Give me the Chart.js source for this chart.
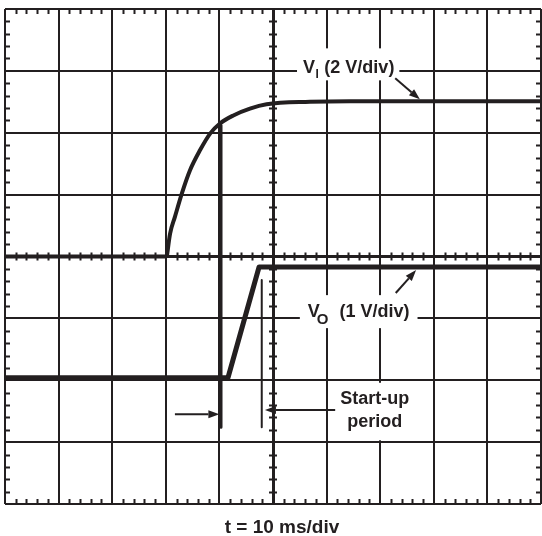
<!DOCTYPE html>
<html>
<head>
<meta charset="utf-8">
<script src="https://cdn.jsdelivr.net/npm/chart.js@4/dist/chart.umd.min.js"></script>
<style>
  body { margin: 0; background: #fff; }
  #wrap { width: 542px; height: 536px; position: relative; }
</style>
</head>
<body>
<div id="wrap"><canvas id="scope"></canvas></div>
<script>
// time in ms (10 ms/div), level in divisions from the bottom of the screen
var viBaseT = [0, 30.2];
var viBaseV = [4.0, 4.0];
var viRampT = [30.2, 30.8, 31.7, 33.0, 34.5, 36.4, 38.3, 40.1, 42.6, 45.7, 48.8, 56.9, 64.4, 100];
var viRampV = [4.0, 4.37, 4.64, 5.02, 5.39, 5.72, 5.99, 6.15, 6.28, 6.39, 6.46, 6.50, 6.51, 6.51];
var voT = [0, 41.6, 47.4, 100];
var voV = [2.04, 2.04, 3.83, 3.83];

// start-up period markers
var markStartT = [40.3, 40.3];
var markStartV = [6.12, 1.24];
var markEndT = [47.9, 47.9];
var markEndV = [3.62, 1.24];

// arrows (from -> to)
var arrowFromT = [72.8, 72.9, 31.7, 61.6];
var arrowFromV = [6.88, 3.41, 1.45, 1.52];
var arrowToT = [77.4, 76.7, 40.0, 48.5];
var arrowToV = [6.54, 3.78, 1.45, 1.52];

// labels
var viLabel = ['V', 'I', ' (2 V/div)'];
var voLabel = ['V', 'O', '  (1 V/div)'];
var startLabel = ['Start-up', 'period'];
var timeLabel = 't = 10 ms/div';

var ink = '#231f20';

function pts(xs, ys) {
    var out = [];
    for (var i = 0; i < xs.length; i++) {
        out.push({ x: xs[i], y: ys[i] });
    }
    return out;
}

var scopeDecor = {
    id: 'scopeDecor',
    beforeDatasetsDraw: function (chart) {
        var ctx = chart.ctx;
        var xs = chart.scales.x, ys = chart.scales.y;
        var a = chart.chartArea;
        ctx.save();
        ctx.strokeStyle = ink;
        ctx.lineWidth = 2;
        ctx.beginPath();
        // minor ticks along x
        var cy = ys.getPixelForValue(4);
        for (var t = 2; t < 100; t += 2) {
            if (t % 10 == 0) continue;
            var px = Math.round(xs.getPixelForValue(t)) + 0.5;
            ctx.moveTo(px, a.top); ctx.lineTo(px, a.top + 5);
            ctx.moveTo(px, a.bottom); ctx.lineTo(px, a.bottom - 5);
            ctx.moveTo(px, cy - 4); ctx.lineTo(px, cy + 4);
        }
        // minor ticks along y
        var cx = xs.getPixelForValue(50);
        for (var k = 1; k < 40; k++) {
            if (k % 5 == 0) continue;
            var py = Math.round(ys.getPixelForValue(k / 5)) + 0.5;
            ctx.moveTo(a.left, py); ctx.lineTo(a.left + 5, py);
            ctx.moveTo(a.right, py); ctx.lineTo(a.right - 5, py);
            ctx.moveTo(cx - 4, py); ctx.lineTo(cx + 4, py);
        }
        ctx.stroke();

        ctx.fillStyle = ink;
        ctx.textBaseline = 'alphabetic';

        // V_I label
        var lx = xs.getPixelForValue(55.6), ly = ys.getPixelForValue(6.96);
        ctx.font = 'bold 18px "Liberation Sans", Arial, sans-serif';
        var w1 = ctx.measureText(viLabel[0]).width;
        ctx.font = 'bold 12px "Liberation Sans", Arial, sans-serif';
        var w2 = ctx.measureText(viLabel[1]).width;
        ctx.font = 'bold 18px "Liberation Sans", Arial, sans-serif';
        var w3 = ctx.measureText(viLabel[2]).width;
        ctx.fillStyle = '#fff';
        ctx.fillRect(lx - 6, ly - 25, w1 + w2 + w3 + 12, 32);
        ctx.fillStyle = ink;
        ctx.fillText(viLabel[0], lx, ly);
        ctx.fillText(viLabel[2], lx + w1 + w2 + 1, ly);
        ctx.font = 'bold 12px "Liberation Sans", Arial, sans-serif';
        ctx.fillText(viLabel[1], lx + w1 + 0.5, ly + 5);

        // V_O label
        lx = xs.getPixelForValue(56.5); ly = ys.getPixelForValue(3.02);
        ctx.font = 'bold 18px "Liberation Sans", Arial, sans-serif';
        w1 = ctx.measureText(voLabel[0]).width;
        ctx.font = 'bold 15px "Liberation Sans", Arial, sans-serif';
        w2 = ctx.measureText(voLabel[1]).width;
        ctx.font = 'bold 18px "Liberation Sans", Arial, sans-serif';
        w3 = ctx.measureText(voLabel[2]).width;
        ctx.fillStyle = '#fff';
        ctx.fillRect(lx - 8, ly - 22, w1 + w2 + w3 + 14, 33);
        ctx.fillStyle = ink;
        ctx.fillText(voLabel[0], lx, ly);
        ctx.fillText(voLabel[2], lx + w1 + w2 - 2, ly);
        ctx.font = 'bold 15px "Liberation Sans", Arial, sans-serif';
        ctx.fillText(voLabel[1], lx + w1 - 3, ly + 7);

        // start-up label
        var sx = xs.getPixelForValue(69.0);
        var sy1 = ys.getPixelForValue(1.62), sy2 = ys.getPixelForValue(1.24);
        ctx.fillStyle = '#fff';
        ctx.fillRect(sx - 40, sy1 - 21, 80, sy2 - sy1 + 34);
        ctx.fillStyle = ink;
        ctx.font = 'bold 18px "Liberation Sans", Arial, sans-serif';
        ctx.textAlign = 'center';
        ctx.fillText(startLabel[0], sx, sy1);
        ctx.fillText(startLabel[1], sx, sy2);

        // time base under the screen
        ctx.font = 'bold 19px "Liberation Sans", Arial, sans-serif';
        ctx.fillText(timeLabel, chart.width / 2 + 11, 533);
        ctx.restore();
    },
    afterDatasetsDraw: function (chart) {
        var ctx = chart.ctx;
        var xs = chart.scales.x, ys = chart.scales.y;
        ctx.save();
        ctx.strokeStyle = ink;
        ctx.fillStyle = ink;
        ctx.lineWidth = 2;
        for (var i = 0; i < arrowFromT.length; i++) {
            var x0 = xs.getPixelForValue(arrowFromT[i]), y0 = ys.getPixelForValue(arrowFromV[i]);
            var x1 = xs.getPixelForValue(arrowToT[i]), y1 = ys.getPixelForValue(arrowToV[i]);
            var ang = Math.atan2(y1 - y0, x1 - x0);
            var hl = 11, hw = 4;
            var bx = x1 - hl * Math.cos(ang), by = y1 - hl * Math.sin(ang);
            ctx.beginPath();
            ctx.moveTo(x0, y0);
            ctx.lineTo(bx, by);
            ctx.stroke();
            ctx.beginPath();
            ctx.moveTo(x1, y1);
            ctx.lineTo(bx + hw * Math.sin(ang), by - hw * Math.cos(ang));
            ctx.lineTo(bx - hw * Math.sin(ang), by + hw * Math.cos(ang));
            ctx.closePath();
            ctx.fill();
        }
        ctx.restore();
    }
};

var ctx = document.getElementById('scope').getContext('2d');
var scope = new Chart(ctx, {
    type: 'line',
    data: {
        datasets: [
            { label: 'VI base', data: pts(viBaseT, viBaseV), borderWidth: 4 },
            { label: 'VI', data: pts(viRampT, viRampV), borderWidth: 4, cubicInterpolationMode: 'monotone' },
            { label: 'VO', data: pts(voT, voV), borderWidth: 5 },
            { label: 'start mark', data: pts(markStartT, markStartV), borderWidth: 3 },
            { label: 'end mark', data: pts(markEndT, markEndV), borderWidth: 2 }
        ]
    },
    options: {
        responsive: true,
        maintainAspectRatio: false,
        animation: false,
        events: [],
        layout: { padding: { left: 5, top: 9, right: 1, bottom: 32 } },
        elements: {
            point: { radius: 0 },
            line: { borderColor: ink, borderJoinStyle: 'round', borderCapStyle: 'butt', fill: false }
        },
        plugins: { legend: { display: false }, tooltip: { enabled: false } },
        scales: {
            x: {
                type: 'linear', min: 0, max: 100,
                ticks: { display: false, stepSize: 10 },
                border: { display: false },
                grid: {
                    drawTicks: false, color: ink,
                    lineWidth: function (c) { return c.tick && c.tick.value == 50 ? 3 : 2; }
                }
            },
            y: {
                type: 'linear', min: 0, max: 8,
                ticks: { display: false, stepSize: 1 },
                border: { display: false },
                grid: {
                    drawTicks: false, color: ink,
                    lineWidth: function (c) { return c.tick && c.tick.value == 4 ? 3 : 2; }
                }
            }
        }
    },
    plugins: [scopeDecor]
});
</script>
</body>
</html>
